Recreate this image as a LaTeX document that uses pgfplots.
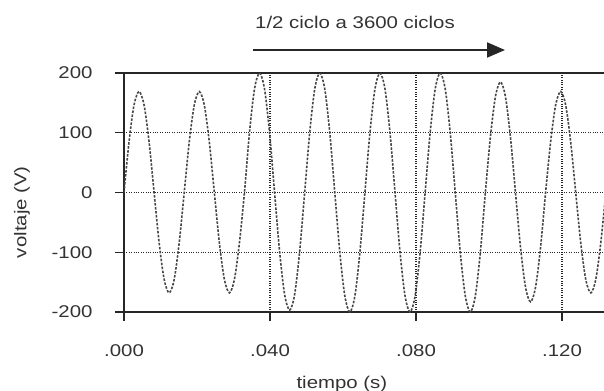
\documentclass[border=0pt]{standalone}
\usepackage{pgfplots}
\pgfplotsset{compat=1.18}
\usepackage{fontspec}
\setmainfont{Liberation Sans}[FakeStretch=1.2]
\usetikzlibrary{arrows.meta}
\begin{document}
\begin{tikzpicture}[font=\fontsize{17bp}{20bp}\selectfont]
\useasboundingbox (-124bp,-79bp) rectangle (480bp,312bp);
\begin{axis}[
  at={(0,0)}, anchor=south west,
  scale only axis, width=480bp, height=239bp,
  xmin=0, xmax=0.1315, ymin=-200, ymax=200,
  axis x line=box, axis y line=left,
  axis line style={-, black!85, line width=1.4bp},
  xtick={0,0.04,0.08,0.12}, xticklabels={.000,.040,.080,.120},
  ytick={-200,-100,0,100,200}, yticklabels={-200,-100,0,100,200},
  scaled x ticks=false,
  xtick pos=left, ytick pos=left,
  tick align=outside, major tick length=9bp,
  every tick/.style={black!85, line width=1.4bp},
  grid=major, grid style={dotted, black!85, line width=1.3bp},
  /pgf/number format/assume math mode=true,
  tick label style={font=\fontsize{17bp}{20bp}\selectfont, text=black!80},
  xticklabel style={anchor=center, yshift=-30bp},
  yticklabel style={anchor=east, xshift=-19bp},
  label style={font=\fontsize{17bp}{20bp}\selectfont, text=black!80},
  xlabel={tiempo (s)}, ylabel={voltaje (V)},
  xlabel style={at={(axis description cs:0.454,-0.30)}, anchor=center},
  ylabel style={at={(axis description cs:-0.2125,0.418)}, anchor=center},
]
\addplot[black!72, line width=1.6bp, dash pattern=on 2.5bp off 1.5bp, smooth] coordinates {
(0,0) (0.001375,84.5) (0.00275,146.4) (0.004125,169) (0.0055,146.4) (0.006875,84.5) (0.00825,0)
(0.009625,-84) (0.011,-145.5) (0.012375,-168) (0.01375,-145.5) (0.015125,-84) (0.0165,0)
(0.017875,84.5) (0.01925,146.4) (0.020625,169) (0.022,146.4) (0.023375,84.5) (0.02475,0)
(0.026125,-84) (0.0275,-145.5) (0.028875,-168) (0.03025,-145.5) (0.031625,-84) (0.033,0)
(0.034375,100) (0.03575,173.2) (0.037125,200) (0.0385,173.2) (0.039875,100) (0.04125,0)
(0.042625,-98.5) (0.044,-170.6) (0.045375,-197) (0.04675,-170.6) (0.048125,-98.5) (0.0495,0)
(0.050875,100) (0.05225,173.2) (0.053625,200) (0.055,173.2) (0.056375,100) (0.05775,0)
(0.059125,-100) (0.0605,-173.2) (0.061875,-200) (0.06325,-173.2) (0.064625,-100) (0.066,0)
(0.067375,100) (0.06875,173.2) (0.070125,200) (0.0715,173.2) (0.072875,100) (0.07425,0)
(0.075625,-100) (0.077,-173.2) (0.078375,-200) (0.07975,-173.2) (0.081125,-100) (0.0825,0)
(0.083875,100) (0.08525,173.2) (0.086625,200) (0.088,173.2) (0.089375,100) (0.09075,0)
(0.092125,-100) (0.0935,-173.2) (0.094875,-200) (0.09625,-173.2) (0.097625,-100) (0.099,0)
(0.100375,92.5) (0.10175,160.2) (0.103125,185) (0.1045,160.2) (0.105875,92.5) (0.10725,0)
(0.108625,-91.5) (0.11,-158.5) (0.111375,-183) (0.11275,-158.5) (0.114125,-91.5) (0.1155,0)
(0.116875,84.5) (0.11825,146.4) (0.119625,169) (0.121,146.4) (0.122375,84.5) (0.12375,0)
(0.125125,-84) (0.1265,-145.5) (0.127875,-168) (0.12925,-145.5) (0.130625,-84) (0.132,0)
};
\end{axis}
\draw[black!85, line width=2bp, -{Triangle[length=18bp,width=15bp]}] (129bp,262bp) -- (381bp,262bp);
\node[text=black!80, font=\fontsize{17bp}{20bp}\selectfont] at (231bp,290bp) {1/2 ciclo a 3600 ciclos};
\end{tikzpicture}
\end{document}
